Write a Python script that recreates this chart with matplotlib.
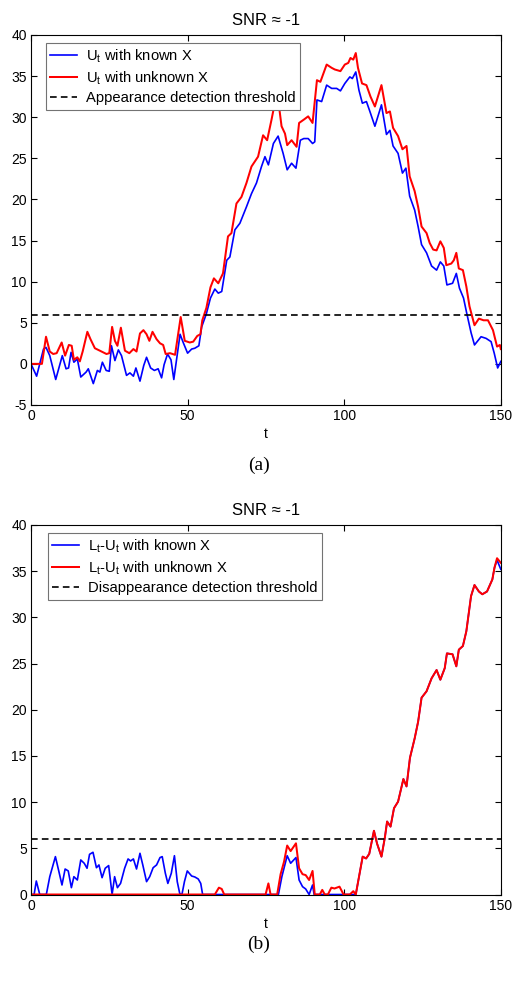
import matplotlib
matplotlib.use("Agg")
import matplotlib.pyplot as plt

plt.rcParams['font.family'] = ['Liberation Sans', 'DejaVu Sans']
plt.rcParams['font.size'] = 10
plt.rcParams['mathtext.fontset'] = 'custom'
plt.rcParams['mathtext.rm'] = 'Liberation Sans'
plt.rcParams['mathtext.it'] = 'Liberation Sans:italic'
plt.rcParams['axes.unicode_minus'] = False

# ---- (a) appearance statistic U_t ----
t_known_a = [0, 1.8, 4, 4.8, 6, 7.9, 10, 11.2, 12, 12.8, 13.7, 14.8, 15.9, 17.6, 18.3, 19.9, 21.2, 22,
             22.8, 24, 25, 25.7, 26.8, 27.9, 28.9, 30.5, 31.6, 32.7, 33.5, 34.8, 36, 36.9, 38.2, 39.4,
             40.6, 41.7, 42.5, 43.6, 44.7, 45.6, 47.6, 48.6, 50, 51.3, 52.3, 53.6, 54.5, 56, 57.3, 58.7,
             59.8, 60.9, 62.5, 63.5, 65.1, 66.7, 68.8, 70.4, 72, 73.6, 74.7, 75.8, 77.4, 78.9, 80.5, 81.8,
             83.2, 84.6, 86, 87.1, 88.5, 89.9, 90.6, 91.3, 92.8, 94.4, 96, 97.6, 98.8, 100.2, 101.8, 102.6,
             103.7, 104.7, 105.8, 107.1, 108.2, 109.8, 111.9, 113.5, 114.6, 115.6, 117.2, 118.6, 119.7,
             120.9, 122.5, 123.6, 124.7, 126.3, 127.9, 129.5, 130.7, 131.8, 132.8, 134.6, 135.8, 136.8,
             138.1, 139.1, 140.5, 141.6, 143.7, 145.3, 146.9, 147.9, 149, 150]
u_known = [0, -1.5, 1.8, 2.0, 1.0, -1.9, 1.0, -0.6, -0.5, 1.4, 0.2, 0.6, -1.6, -1.0, -0.6, -2.4, -0.8, -1.0,
           0.2, -0.8, -0.9, 2.2, 0.4, 1.7, 1.0, -1.4, -1.1, -1.5, -0.5, -2.1, -0.2, 0.8, -0.5, -0.8,
           -0.6, -1.7, -0.1, 1.2, 0.5, -1.9, 3.6, 2.6, 1.3, 1.8, 1.9, 2.2, 4.5, 6.1, 8.0, 9.1,
           8.6, 8.8, 12.6, 13.0, 16.3, 17.1, 19.1, 20.7, 22, 24, 25.2, 24.2, 26.8, 27.7, 25.6, 23.6,
           24.4, 23.8, 27.2, 27.4, 27.4, 26.8, 27.0, 32.1, 31.9, 33.9, 33.5, 33.5, 33.2, 34.1, 34.9, 34.7,
           35.5, 33.3, 31.7, 31.9, 30.7, 28.9, 31.5, 27.9, 28.4, 26.5, 25.6, 23.2, 23.8,
           20.4, 18.7, 16.7, 14.5, 13.5, 11.9, 11.4, 12.4, 11.9, 9.6, 9.8, 11.0, 9.2,
           8.0, 6.2, 3.8, 2.3, 3.3, 3.1, 2.7, 1.3, -0.5, 0.3]

t_unknown_a = [0, 3.5, 4.8, 6, 7.1, 8.2, 9.8, 10.9, 12.1, 13, 13.7, 14.8, 15.6, 16.5, 18, 19, 20.4, 22,
               24.1, 25, 25.9, 26.8, 27.6, 28.7, 30, 31.4, 32.7, 33.7, 34.8, 35.9, 36.9, 37.8, 38.8,
               40.1, 41.2, 42.2, 43, 44.4, 46, 47.8, 49.1, 50.7, 51.8, 53.1, 54.1, 54.7, 56, 57.3, 58.4,
               59.8, 61.3, 62.9, 64, 65.6, 67.2, 68.8, 70.4, 72.5, 74.1, 75.4, 76.8, 78, 79.3, 80, 81.1,
               81.8, 83.2, 84.8, 85.6, 87.1, 88.5, 89.9, 91.3, 92.4, 94.4, 96, 97, 98.8, 100.2, 101.3,
               102, 102.9, 103.7, 104.4, 105.7, 107.1, 108.4, 109.8, 111.9, 113.5, 114.6, 115.6, 117.2,
               118.6, 119.9, 120.9, 122.5, 123.6, 124.7, 126.3, 127.3, 128.4, 129.5, 130.7, 131.8, 132.6,
               134.2, 135, 135.8, 136.6, 137.9, 139, 140, 140.9, 141.6, 143, 144.5, 145.9, 147.5, 148.8,
               149.7, 150]
u_unknown = [0, 0, 3.3, 1.5, 1.2, 1.3, 2.6, 1.0, 2.3, 2.2, 0.5, 0.8, 0.3, 1.5, 3.9, 3.0, 1.9, 1.6,
             1.2, 1.3, 4.5, 2.8, 2.2, 4.4, 1.6, 1.3, 1.8, 1.5, 3.7, 4.1, 3.6, 2.8, 3.9,
             3.0, 2.5, 2.3, 1.2, 1.3, 1.1, 5.7, 2.8, 2.6, 2.7, 3.4, 3.6, 5.3, 6.8, 9.3, 10.4,
             9.8, 11, 15.5, 15.9, 19.5, 20.3, 22, 24, 25.2, 27.8, 27.2, 29.7, 32, 31, 28.9, 28.0,
             26.6, 27.2, 26.4, 29.3, 29.7, 30.1, 29.3, 34.5, 34.3, 36.4, 36, 35.8, 35.6, 36.4, 36.6,
             37.2, 37.0, 37.8, 36.0, 34.1, 33.9, 32.5, 31.3, 33.9, 30.5, 30.7, 28.7, 27.7,
             26.1, 26.5, 22.8, 21.0, 19.1, 16.7, 15.9, 14.7, 13.9, 13.8, 14.9, 14.1, 12.0,
             12.2, 12.6, 13.5, 11.6, 11.4, 9.4, 7.0, 5.7, 4.7, 5.5, 5.3, 5.3, 4.1, 2.1,
             2.3, 1.8]

# ---- (b) disappearance statistic L_t - U_t ----
t_known_b = [0, 1.0, 1.7, 2.8, 4.9, 6, 7.8, 8.8, 9.9, 10.9, 11.9, 12.9, 13.7, 14.8, 15.9, 17, 17.9, 18.7,
             19.8, 20.9, 21.7, 22.7, 23.7, 24.8, 25.9, 26.7, 27.6, 28.6, 29.9, 31, 31.8, 32.7, 33.7,
             34.8, 35.7, 36.9, 37.9, 39, 40.1, 41.2, 41.9, 42.9, 43.7, 44.8, 45.8, 46.7, 47.5, 48.2,
             49, 49.9, 51.3, 52.3, 53.4, 54.2, 54.8, 79, 80.1, 81.8, 82.9, 84.6, 85.6, 86.7, 87.7,
             88.8, 89.9, 90.4, 103.7, 105.9, 107, 108, 109.5, 110.5, 111.9, 113, 113.7, 114.8, 115.9,
             117.2, 118.9, 119.9, 121, 122.5, 123.6, 124.7, 126.3, 127.9, 129.5, 130.7, 132.1, 132.8,
             134.6, 135.8, 136.6, 137.9, 139, 140.5, 141.6, 143, 144.1, 145.6, 147.3, 148, 148.8, 150]
d_known = [0, 0, 1.46, 0, 0, 1.93, 4.1, 2.65, 1.03, 2.76, 2.55, 0.74, 1.93, 1.57, 3.74, 3.38, 2.84, 4.35,
           4.57, 2.9, 3.2, 1.82, 2.84, 3.13, 0, 1.93, 0.74, 1.2, 2.84, 3.85, 3.63, 3.85, 2.76,
           4.46, 3.2, 1.39, 1.93, 2.9, 3.2, 4.0, 4.1, 2.3, 1.2, 2.3, 4.2, 1.39, 0.1, 0,
           1.4, 2.55, 2.0, 1.9, 1.68, 1.2, 0, 0, 1.93, 4.2, 3.38, 4.0, 1.57, 0.85, 0.6,
           0, 1.03, 0, 0, 4.1, 3.9, 4.4, 6.9, 5.5, 4.1, 6.2, 7.9, 7.35, 9.34,
           10.05, 12.5, 11.7, 14.8, 16.9, 18.7, 21.3, 22, 23.4, 24.3, 23.25, 24.5, 26.1,
           26, 24.7, 26.5, 26.9, 28.5, 32.3, 33.5, 32.8, 32.5, 32.8, 34.1, 35.4, 36.2, 35.2]

t_unknown_b = [0, 58.7, 60, 60.9, 61.7, 74.9, 75.8, 76.5, 78.6, 79.7, 80.8, 81.8, 82.9, 84.6, 85.6, 86.7,
               87.7, 88.8, 89.9, 90.6, 92.2, 93, 93.8, 94.8, 95.9, 96.9, 98.5, 99.8, 101.8, 102.9, 103.7,
               105.9, 107, 108, 109.5, 110.5, 111.9, 113, 113.7, 114.8, 115.9, 117.2, 118.9, 119.9, 121,
               122.5, 123.6, 124.7, 126.3, 127.9, 129.5, 130.7, 132.1, 132.8, 134.6, 135.8, 136.6, 137.9,
               139, 140.5, 141.6, 143, 144.1, 145.6, 147.3, 148, 148.8, 150]
d_unknown = [0, 0, 0.74, 0.6, 0, 0, 1.2, 0, 0, 2.2, 3.56, 5.3, 4.7, 5.54, 2.84, 2.2,
             2.1, 1.57, 2.55, 0, 0, 0.5, 0, 0, 0.74, 0.65, 0.85, 0, 0, 0.36, 0,
             4.1, 3.9, 4.4, 6.9, 5.5, 4.1, 6.2, 7.9, 7.35, 9.34, 10.05, 12.5, 11.7, 14.8,
             16.9, 18.7, 21.3, 22, 23.4, 24.3, 23.25, 24.5, 26.1, 26, 24.7, 26.5, 26.9,
             28.5, 32.3, 33.5, 32.8, 32.5, 32.8, 34.1, 35.4, 36.4, 35.9]

threshold = 6
title = 'SNR \u2248 -1'
labels_a = ['U$_\\mathrm{t}$ with known X', 'U$_\\mathrm{t}$ with unknown X',
            'Appearance detection threshold']
labels_b = ['L$_\\mathrm{t}$-U$_\\mathrm{t}$ with known X', 'L$_\\mathrm{t}$-U$_\\mathrm{t}$ with unknown X',
            'Disappearance detection threshold']

fig = plt.figure(figsize=(5.18, 9.82), dpi=100)
ax1 = fig.add_axes([0.0598, 0.5876, 0.907, 0.3768])
ax2 = fig.add_axes([0.0598, 0.0891, 0.907, 0.3763])


def panel(ax, tk, yk, tu, yu, labels, ylo, legx):
    ax.plot(tk, yk, color=(0, 0, 1), lw=1.2, label=labels[0])
    ax.plot(tu, yu, color=(1, 0, 0), lw=1.45, label=labels[1])
    ax.axhline(threshold, color='black', lw=1.2, ls=(0, (4, 2.5)), label=labels[2])
    ax.set_xlim(0, 150)
    ax.set_ylim(ylo, 40)
    ax.set_xticks([0, 50, 100, 150])
    ax.set_yticks(range(ylo, 41, 5))
    ax.tick_params(direction='in', length=4, top=True, right=True, labelsize=10, pad=3)
    ax.set_xlabel('t', labelpad=3)
    ax.set_title(title, fontsize=12, pad=7)
    leg = ax.legend(loc='upper left', bbox_to_anchor=(legx, 0.978), borderaxespad=0,
                    fancybox=False, edgecolor='0.45', framealpha=1, fontsize=10.6,
                    handlelength=1.8, handletextpad=0.6, labelspacing=0.3, borderpad=0.3)
    leg.get_frame().set_linewidth(0.8)


panel(ax1, t_known_a, u_known, t_unknown_a, u_unknown, labels_a, -5, 0.032)
panel(ax2, t_known_b, d_known, t_unknown_b, d_unknown, labels_b, 0, 0.036)

fig.text(0.5, 1 - 465 / 982, '(a)', family='Liberation Serif', fontsize=14, ha='center', va='center')
fig.text(0.5, 1 - 944 / 982, '(b)', family='Liberation Serif', fontsize=14, ha='center', va='center')

fig.savefig('out.png', dpi=100)
